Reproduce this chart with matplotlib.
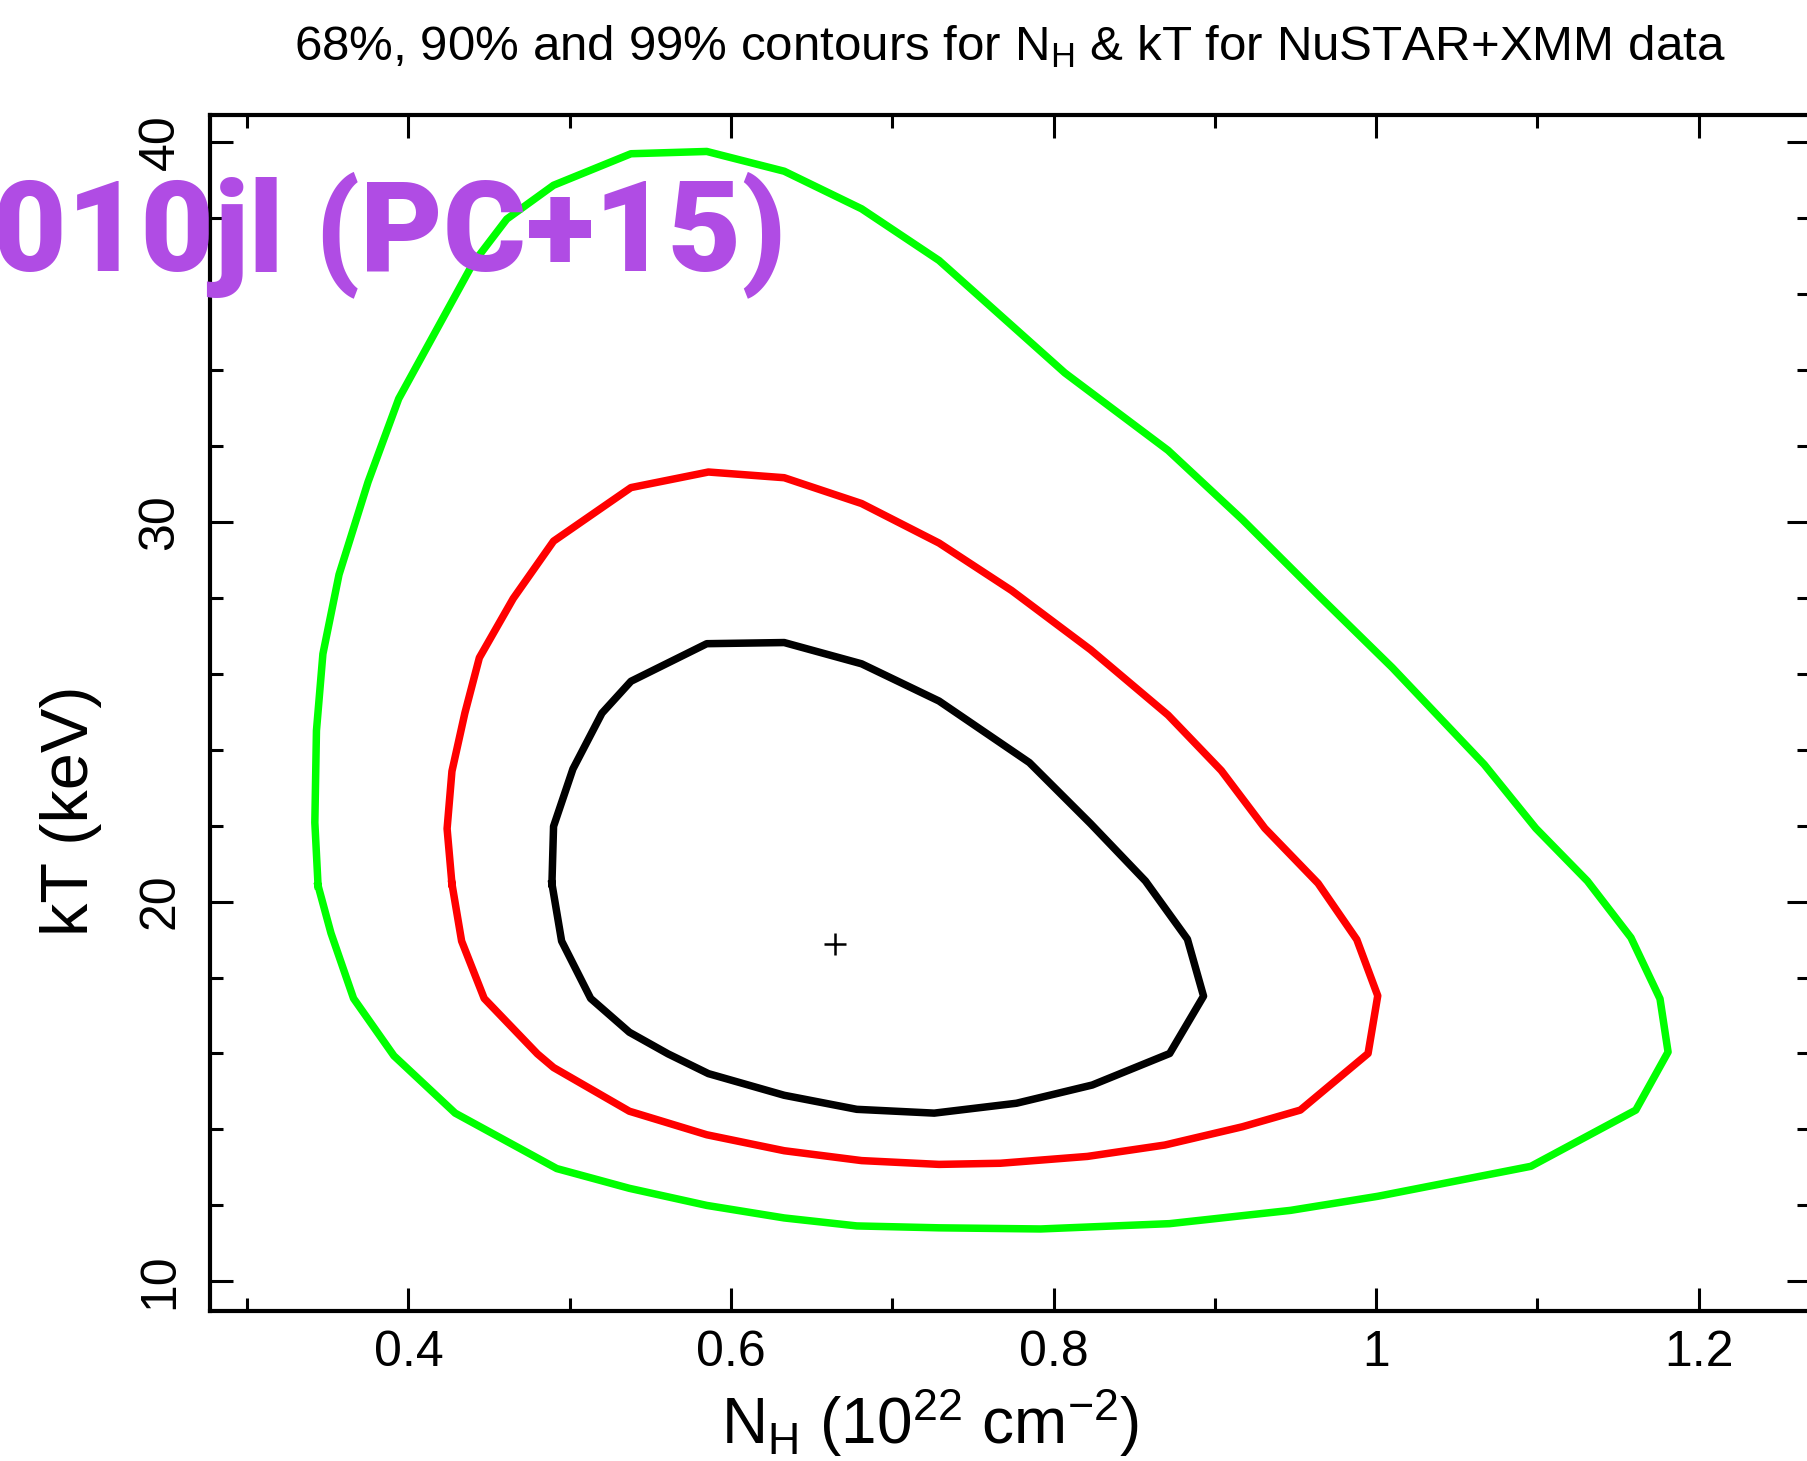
import numpy as np
import matplotlib
matplotlib.use('Agg')
import matplotlib.pyplot as plt
from matplotlib.ticker import MultipleLocator, FixedLocator

# 68% contour (black)
nh_68 = [0.489, 0.490, 0.502, 0.520, 0.538, 0.585, 0.633, 0.681, 0.729, 0.785, 0.823, 0.857,
         0.883, 0.893, 0.872, 0.824, 0.777, 0.726, 0.678, 0.633, 0.586, 0.561, 0.537, 0.513, 0.495]
kt_68 = [20.47, 21.98, 23.49, 24.96, 25.80, 26.79, 26.82, 26.26, 25.28, 23.66, 22.05, 20.54,
         19.01, 17.51, 16.00, 15.17, 14.69, 14.43, 14.53, 14.90, 15.47, 15.99, 16.56, 17.45, 18.96]

# 90% contour (red)
nh_90 = [0.427, 0.424, 0.427, 0.435, 0.444, 0.465, 0.490, 0.538, 0.586, 0.633, 0.681, 0.729,
         0.774, 0.823, 0.871, 0.904, 0.931, 0.964, 0.988, 1.001, 0.995, 0.953, 0.917, 0.869,
         0.821, 0.767, 0.729, 0.681, 0.633, 0.585, 0.537, 0.490, 0.480, 0.447, 0.433]
kt_90 = [20.47, 21.92, 23.43, 24.96, 26.42, 27.98, 29.49, 30.90, 31.31, 31.16, 30.48, 29.44,
         28.19, 26.63, 24.91, 23.45, 21.93, 20.48, 19.00, 17.52, 16.00, 14.51, 14.07, 13.59,
         13.29, 13.11, 13.08, 13.18, 13.44, 13.86, 14.48, 15.63, 15.99, 17.45, 18.96]

# 99% contour (green)
nh_99 = [0.344, 0.342, 0.343, 0.347, 0.357, 0.375, 0.394, 0.440, 0.461, 0.490, 0.538, 0.585,
         0.633, 0.681, 0.729, 0.807, 0.871, 0.917, 0.965, 1.010, 1.067, 1.099, 1.131, 1.158,
         1.176, 1.181, 1.161, 1.096, 1.001, 0.947, 0.872, 0.792, 0.729, 0.678, 0.633, 0.585,
         0.537, 0.492, 0.429, 0.391, 0.366, 0.352]
kt_99 = [20.42, 22.08, 24.50, 26.52, 28.61, 31.05, 33.24, 36.80, 37.97, 38.86, 39.69, 39.75,
         39.23, 38.24, 36.88, 33.92, 31.88, 30.06, 28.03, 26.16, 23.61, 21.93, 20.54, 19.05,
         17.44, 16.04, 14.51, 13.03, 12.24, 11.87, 11.52, 11.38, 11.41, 11.46, 11.67, 12.00,
         12.45, 12.97, 14.43, 15.94, 17.45, 19.17]

nh_best = [0.6645]
kt_best = [18.87]

x_ticks = [0.4, 0.6, 0.8, 1.0, 1.2]
x_tick_labels = ['0.4', '0.6', '0.8', '1', '1.2']
y_ticks = [10, 20, 30, 40]
y_tick_labels = ['10', '20', '30', '40']


def close(v):
  v = np.asarray(v, dtype=float)
  return np.append(v, v[0])


plt.rcParams['font.family'] = ['Liberation Sans', 'DejaVu Sans']
plt.rcParams['mathtext.fontset'] = 'custom'
plt.rcParams['mathtext.rm'] = 'Liberation Sans'
plt.rcParams['mathtext.it'] = 'Liberation Sans:italic'
plt.rcParams['mathtext.bf'] = 'Liberation Sans:bold'

W, H = 1808, 1461
fig = plt.figure(figsize=(W / 100, H / 100), dpi=100)
ax = fig.add_axes([210 / W, 1 - 1311 / H, 1600 / W, 1196 / H])

fs_ticks = 36
fs_labels = 46
fs_title = 35.5
line_width = 5.4
border_width = 3.0

ax.plot(close(nh_99), close(kt_99), color='#00ff00', lw=line_width)
ax.plot(close(nh_90), close(kt_90), color='#ff0000', lw=line_width)
ax.plot(close(nh_68), close(kt_68), color='black', lw=line_width)
ax.plot(nh_best, kt_best, ls='none', marker='+', ms=16, mew=1.8, color='black')

ax.set_xlim(0.277, 1.269)
ax.set_ylim(9.22, 40.71)

ax.xaxis.set_major_locator(FixedLocator(x_ticks))
ax.set_xticklabels(x_tick_labels)
ax.xaxis.set_minor_locator(MultipleLocator(0.1))
ax.yaxis.set_major_locator(FixedLocator(y_ticks))
ax.set_yticklabels(y_tick_labels, rotation=90, va='center')
ax.yaxis.set_minor_locator(MultipleLocator(2))

ax.tick_params(which='both', direction='in', top=True, right=True, width=2.2)
ax.tick_params(which='major', length=16.5)
ax.tick_params(which='minor', length=9.4)
ax.tick_params(axis='x', which='major', labelsize=fs_ticks, pad=14)
ax.tick_params(axis='y', which='major', labelsize=fs_ticks, pad=19)
[sp.set_linewidth(border_width) for sp in ax.spines.values()]

ax.set_xlabel(r'N$_{\rm H}$ (10$^{22}$ cm$^{-2}$)', fontsize=fs_labels, va='baseline')
ax.xaxis.set_label_coords(0.45, -0.111)
ax.set_ylabel('kT (keV)', fontsize=fs_labels + 2, va='center')
ax.yaxis.set_label_coords(-0.087, 0.418)

ax.set_title(r'68%, 90% and 99% contours for N$_{\rm H}$ & kT for NuSTAR+XMM data',
             fontsize=fs_title, y=1.046, va='baseline', pad=0)

fig.text(-0.004, 1 - 270 / H, '010jl (PC+15)', color='#b04ce4', fontsize=91.5,
         family=['Roboto', 'DejaVu Sans'], fontweight='black', ha='left', va='baseline')

fig.savefig('out.png', dpi=100, facecolor='white')
print('Saved Figure: out.png')
